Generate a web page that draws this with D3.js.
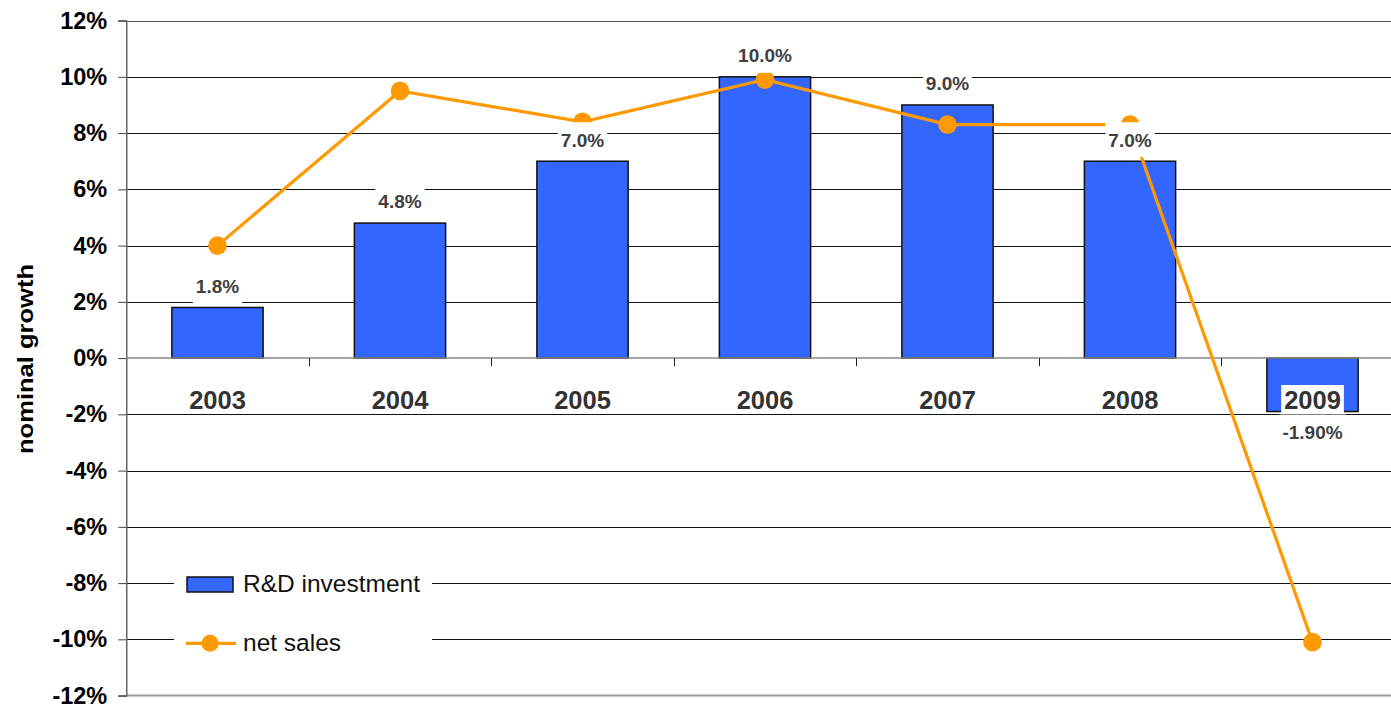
<!DOCTYPE html>
<html>
<head>
<meta charset="utf-8">
<script src="https://cdn.jsdelivr.net/npm/d3@7"></script>
<style>
  html, body { margin: 0; padding: 0; background: #fff; }
  svg { display: block; font-family: "Liberation Sans", Arial, sans-serif; }
</style>
</head>
<body>
<svg id="chart" width="1391" height="704"></svg>
<script>
// Years on the category axis
const years = ["2003", "2004", "2005", "2006", "2007", "2008", "2009"];
// R&D investment growth, % (bars)
const rdGrowth = [1.8, 4.8, 7.0, 10.0, 9.0, 7.0, -1.9];
// decimals shown on each bar label
const rdDecimals = [1, 1, 1, 1, 1, 1, 2];
// net sales growth, % (line)
const salesGrowth = [4.0, 9.5, 8.4, 9.9, 8.3, 8.3, -10.1];
// value axis ticks, %
const yTicks = [12, 10, 8, 6, 4, 2, 0, -2, -4, -6, -8, -10, -12];

const BLUE = "#3366FF", ORANGE = "#FF9900", LABEL = "#404040";

const svg = d3.select("#chart");
const W = 1391;

const plot = { left: 126.25, top: 20.6, bottom: 695.6 };
const step = 182.5;

const x = d3.scaleBand()
  .domain(years)
  .range([plot.left, plot.left + step * years.length])
  .paddingInner(0.5)
  .paddingOuter(0.25);

const y = d3.scaleLinear().domain([-12, 12]).range([plot.bottom, plot.top]);

const pct = (v, dec) => d3.format(`.${dec}f`)(v).replace("\u2212", "-") + "%";

// horizontal gridlines
svg.append("g").selectAll("line")
  .data(yTicks.filter(d => d !== 0 && d !== -12))
  .join("line")
  .attr("x1", plot.left).attr("x2", W)
  .attr("y1", d => Math.round(y(d)) + 0.5).attr("y2", d => Math.round(y(d)) + 0.5)
  .attr("stroke", d => d === 12 ? "#555" : "#111")
  .attr("stroke-width", 1);

// bottom frame line
svg.append("line")
  .attr("x1", plot.left).attr("x2", W)
  .attr("y1", y(-12)).attr("y2", y(-12))
  .attr("stroke", "#999").attr("stroke-width", 2);

// value axis
const yAxis = svg.append("g")
  .attr("transform", `translate(${plot.left},0)`)
  .call(d3.axisLeft(y).tickValues(yTicks).tickSize(8).tickPadding(11)
    .tickFormat(d => pct(d, 0)));
yAxis.select(".domain").attr("stroke", "#666").attr("stroke-width", 1.5);
yAxis.selectAll(".tick line").attr("stroke", "#444");
yAxis.selectAll(".tick text")
  .attr("fill", "#000")
  .style("font-family", "'Liberation Sans', Arial, sans-serif")
  .style("font-weight", "bold")
  .style("font-size", "23.5px");

// axis title
svg.append("text")
  .attr("transform", `translate(33,359) rotate(-90)`)
  .attr("text-anchor", "middle")
  .attr("textLength", 190)
  .attr("lengthAdjust", "spacingAndGlyphs")
  .style("font-weight", "bold")
  .style("font-size", "21.5px")
  .attr("fill", "#000")
  .text("nominal growth");

// bars
svg.append("g").selectAll("rect")
  .data(years.map((yr, i) => ({ yr, v: rdGrowth[i] })))
  .join("rect")
  .attr("x", d => x(d.yr))
  .attr("width", x.bandwidth())
  .attr("y", d => y(Math.max(0, d.v)))
  .attr("height", d => Math.abs(y(d.v) - y(0)))
  .attr("fill", BLUE)
  .attr("stroke", "#111")
  .attr("stroke-width", 1.5);

// zero line with category ticks
svg.append("line")
  .attr("x1", plot.left).attr("x2", W)
  .attr("y1", y(0)).attr("y2", y(0))
  .attr("stroke", "#888").attr("stroke-width", 1.5);
svg.append("g").selectAll("line")
  .data(d3.range(1, years.length))
  .join("line")
  .attr("x1", i => Math.round(plot.left + i * step) + 0.5)
  .attr("x2", i => Math.round(plot.left + i * step) + 0.5)
  .attr("y1", y(0)).attr("y2", y(0) + 8)
  .attr("stroke", "#222").attr("stroke-width", 1);

// net sales line
const cx = yr => x(yr) + x.bandwidth() / 2;
const salesPts = years.map((yr, i) => ({ yr, v: salesGrowth[i] }));
svg.append("path")
  .datum(salesPts)
  .attr("fill", "none")
  .attr("stroke", ORANGE)
  .attr("stroke-width", 3.2)
  .attr("d", d3.line().x(d => cx(d.yr)).y(d => y(d.v)));
svg.append("g").selectAll("circle")
  .data(salesPts)
  .join("circle")
  .attr("cx", d => cx(d.yr))
  .attr("cy", d => y(d.v))
  .attr("r", 9.3)
  .attr("fill", ORANGE);

// label with white backing box, centred on (px, py)
function boxedLabel(g, px, py, txt, size, color, boxH) {
  const grp = g.append("g");
  const rect = grp.append("rect").attr("fill", "#fff");
  const t = grp.append("text")
    .attr("x", px).attr("y", py)
    .attr("text-anchor", "middle")
    .attr("dy", "0.36em")
    .style("font-weight", "bold")
    .style("font-size", size + "px")
    .attr("fill", color)
    .text(txt);
  const w = t.node().getComputedTextLength();
  rect.attr("x", px - w / 2 - 3).attr("width", w + 6)
    .attr("y", py - boxH / 2).attr("height", boxH);
}

// bar value labels
const labelLayer = svg.append("g");
years.forEach((yr, i) => {
  const v = rdGrowth[i];
  const py = v >= 0 ? y(v) - 21.5 : y(v) + 20.5;
  boxedLabel(labelLayer, cx(yr), py, pct(v, rdDecimals[i]), 19, LABEL, 35);
});

// category labels below the zero line
const catLayer = svg.append("g");
years.forEach(yr => {
  boxedLabel(catLayer, cx(yr), 399.5, yr, 25.5, "#333", 29);
});

// legend
const lg = svg.append("g");
lg.append("rect").attr("x", 174).attr("y", 560).attr("width", 258).attr("height", 104)
  .attr("fill", "#fff");
lg.append("rect").attr("x", 187).attr("y", 577).attr("width", 46).attr("height", 15)
  .attr("fill", BLUE).attr("stroke", "#111").attr("stroke-width", 1.5);
lg.append("text").attr("x", 243).attr("y", 591.5)
  .style("font-size", "24.5px").attr("fill", "#111").text("R&D investment");
lg.append("line").attr("x1", 186).attr("x2", 236).attr("y1", 643.3).attr("y2", 643.3)
  .attr("stroke", ORANGE).attr("stroke-width", 3.2);
lg.append("circle").attr("cx", 210).attr("cy", 643.3).attr("r", 8.5).attr("fill", ORANGE);
lg.append("text").attr("x", 243).attr("y", 650.5)
  .style("font-size", "24.5px").attr("fill", "#111").text("net sales");
</script>
</body>
</html>
